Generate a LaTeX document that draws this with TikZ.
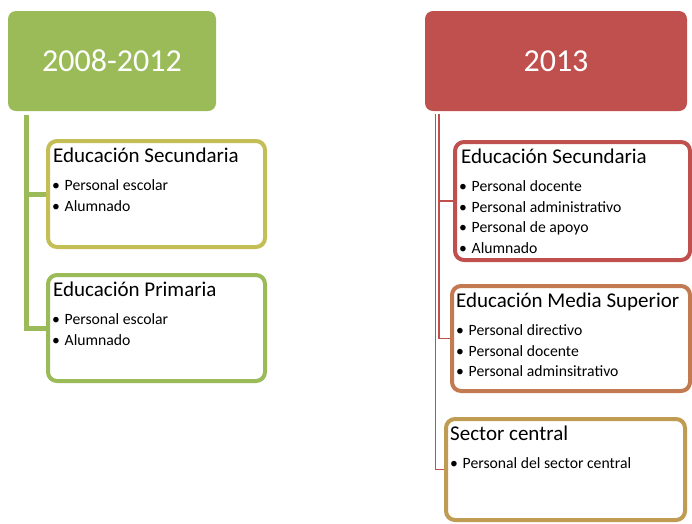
\documentclass[tikz,border=0pt]{standalone}
\usepackage{fontspec}
\setmainfont{Carlito}
\usepackage{tikz}
\usetikzlibrary{positioning}

\definecolor{grn}{RGB}{155,187,89}
\definecolor{rd}{RGB}{192,80,77}
\definecolor{olv}{RGB}{196,190,86}
\definecolor{orn}{RGB}{196,122,80}
\definecolor{gld}{RGB}{192,156,82}

\tikzset{
	hdr/.style={rounded corners=8pt, minimum height=100pt, text=white, inner sep=0pt, font=\fontsize{32}{38}\selectfont},
	grp/.style={draw, line width=4pt, rounded corners=9pt, fill=white, inner sep=0pt},
	ttl/.style={anchor=base west, inner sep=0pt, font=\fontsize{21}{25}\selectfont},
	itm/.style={anchor=base west, inner sep=0pt, font=\fontsize{15.7}{19}\selectfont},
	lconn/.style={draw=grn, line width=5pt},
	rconn/.style={draw=rd, line width=1.5pt},
}
\newcommand{\bul}[1]{\makebox[12.5pt][l]{\textbullet}#1}

\begin{document}
\begin{tikzpicture}[x=1pt, y=-1pt]
		\clip (0,0) rectangle (692,523);
		\fill[white] (0,0) rectangle (692,523);
		% headers
		\node[hdr, fill=grn, minimum width=208pt] (h1) at (112,61) {2008-2012};
		\node[hdr, fill=rd, minimum width=262pt] (h2) at (556,61) {2013};
		% left column
		\node[grp, draw=olv, minimum width=217pt, minimum height=106pt] (s1) at (156.5,194) {};
		\node[grp, draw=grn, minimum width=217pt, minimum height=106pt] (s2) at (156.5,328) {};
		% right column
		\node[grp, draw=rd, minimum width=235pt, minimum height=118pt] (r1) at (572.5,201) {};
		\node[grp, draw=orn, minimum width=238pt, minimum height=105pt] (r2) at (571,338.5) {};
		\node[grp, draw=gld, minimum width=239pt, minimum height=101pt] (r3) at (565.5,469.5) {};
		% connectors
		\coordinate (lt) at ([shift={(19,4)}]h1.south west);
		\draw[lconn] (lt) |- (s1.west);
		\draw[lconn] (lt) |- (s2.west);
		\coordinate (rt1) at ([shift={(14,3)}]h2.south west);
		\coordinate (rt2) at ([shift={(10.5,3)}]h2.south west);
		\draw[rconn] (rt1) |- (r1.west);
		\draw[rconn] (rt1) |- (r2.west);
		\draw[rconn] (rt2) |- (r3.west);
		% titles
		\node[ttl] (s1t) at ([shift={(7,23)}]s1.north west) {Educación Secundaria};
		\node[ttl] (s2t) at ([shift={(7,23)}]s2.north west) {Educación Primaria};
		\node[ttl] (r1t) at ([shift={(8,23)}]r1.north west) {Educación Secundaria};
		\node[ttl] (r2t) at ([shift={(6,23)}]r2.north west) {Educación Media Superior};
		\node[ttl] (r3t) at ([shift={(6,23)}]r3.north west) {Sector central};
		% items
		\foreach \t [count=\i] in {Personal escolar, Alumnado}
			\node[itm] (s1-\i) at ([shift={(6,{51.5+20.5*(\i-1)})}]s1.north west) {\bul{\t}};
		\foreach \t [count=\i] in {Personal escolar, Alumnado}
			\node[itm] (s2-\i) at ([shift={(6,{51.5+20.5*(\i-1)})}]s2.north west) {\bul{\t}};
		\foreach \t [count=\i] in {Personal docente, Personal administrativo, Personal de apoyo, Alumnado}
			\node[itm] (r1-\i) at ([shift={(6,{51.5+20.5*(\i-1)})}]r1.north west) {\bul{\t}};
		\foreach \t [count=\i] in {Personal directivo, Personal docente, Personal adminsitrativo}
			\node[itm] (r2-\i) at ([shift={(6,{51.5+20.5*(\i-1)})}]r2.north west) {\bul{\t}};
		\node[itm] (r3-1) at ([shift={(6,51)}]r3.north west) {\bul{Personal del sector central}};
	\end{tikzpicture}
\end{document}
